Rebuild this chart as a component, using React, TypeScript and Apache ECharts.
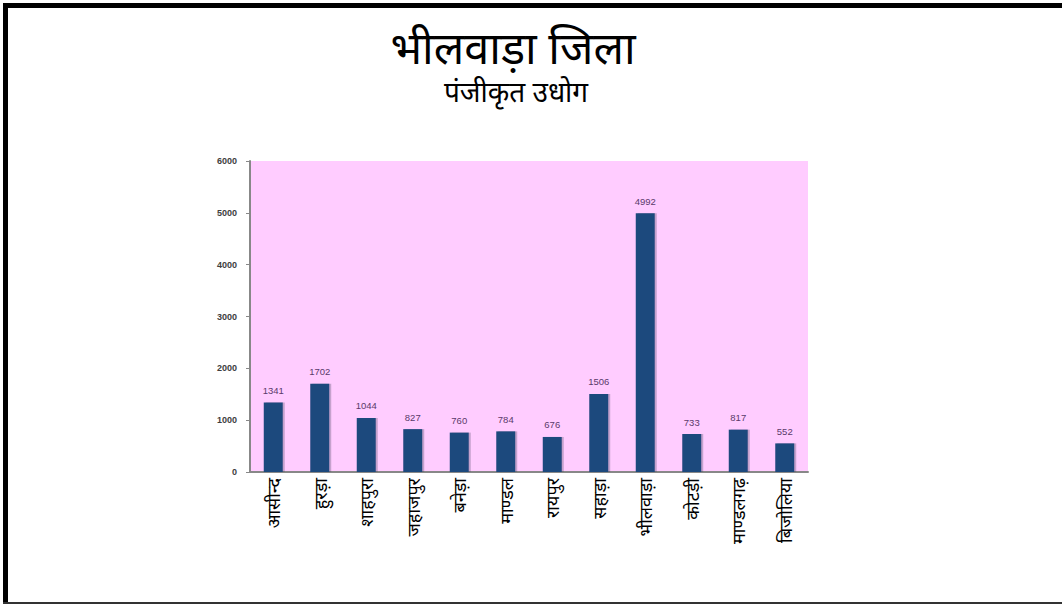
import React, { useEffect, useRef } from "react";
import * as echarts from "echarts";

const categories = ["आसीन्द", "हुरड़ा", "शाहपुरा", "जहाजपुर", "बनेड़ा", "माण्डल", "रायपुर", "सहाड़ा", "भीलवाड़ा", "कोटड़ी", "माण्डलगढ़", "बिजोलिया"];
const values = [1341, 1702, 1044, 827, 760, 784, 676, 1506, 4992, 733, 817, 552];
const yTicks = [0, 1000, 2000, 3000, 4000, 5000, 6000];
const titleText = "भीलवाड़ा जिला";
const subtitleText = "पंजीकृत उधोग";

export default function App() {
  const ref = useRef<HTMLDivElement>(null);
  useEffect(() => {
    if (!ref.current) return;
    const chart = echarts.init(ref.current, null, { renderer: "svg" });
    chart.setOption({
      animation: false,
      backgroundColor: "#ffffff",
      title: [
        {
          text: titleText,
          left: 513,
          textAlign: "center",
          top: 23,
          padding: 0,
          textStyle: { fontSize: 45, fontWeight: "normal", color: "#000", fontFamily: "Noto Sans, sans-serif", lineHeight: 46 },
        },
        {
          text: subtitleText,
          left: 516,
          textAlign: "center",
          top: 75,
          padding: 0,
          textStyle: { fontSize: 28, fontWeight: "normal", color: "#000", fontFamily: "Noto Sans, sans-serif", lineHeight: 32 },
        },
      ],
      graphic: [
        { type: "rect", shape: { x: 3, y: 3, width: 1059, height: 5 }, style: { fill: "#000" } },
        { type: "rect", shape: { x: 3, y: 3, width: 5, height: 600 }, style: { fill: "#000" } },
        { type: "rect", shape: { x: 3, y: 602, width: 1059, height: 2 }, style: { fill: "#333" } },
      ],
      grid: {
        left: 250,
        right: 254,
        top: 161,
        bottom: 134,
        show: true,
        backgroundColor: "#ffccff",
        borderWidth: 0,
      },
      xAxis: {
        type: "category",
        data: categories,
        axisLine: { show: true, lineStyle: { color: "#888", width: 2 } },
        axisTick: { show: false },
        axisLabel: {
          rotate: 90,
          fontSize: 18,
          color: "#000",
          margin: 6,
          fontFamily: "Noto Sans, sans-serif",
        },
      },
      yAxis: {
        type: "value",
        min: yTicks[0],
        max: yTicks[yTicks.length - 1],
        interval: 1000,
        splitLine: { show: false },
        axisLine: { show: true, lineStyle: { color: "#888", width: 2 } },
        axisTick: { show: true, length: 4, lineStyle: { color: "#888" } },
        axisLabel: {
          fontSize: 9,
          fontWeight: "bold",
          color: "#404040",
          margin: 13,
          fontFamily: "Arial, sans-serif",
          formatter: (v: number) => String(v),
        },
      },
      series: [
        {
          type: "bar",
          data: values,
          barWidth: 19,
          itemStyle: {
            color: "#1f497d",
            shadowColor: "rgba(60,60,90,0.3)",
            shadowOffsetX: 2,
            shadowOffsetY: 0,
            shadowBlur: 1,
          },
          label: {
            show: true,
            position: "top",
            distance: 7,
            fontSize: 9.5,
            color: "#5a3a6a",
            fontFamily: "Arial, sans-serif",
          },
        },
      ],
    });
    return () => chart.dispose();
  }, []);
  return <div ref={ref} style={{ position: "fixed", left: 0, top: 0, width: 1062, height: 606 }} />;
}
